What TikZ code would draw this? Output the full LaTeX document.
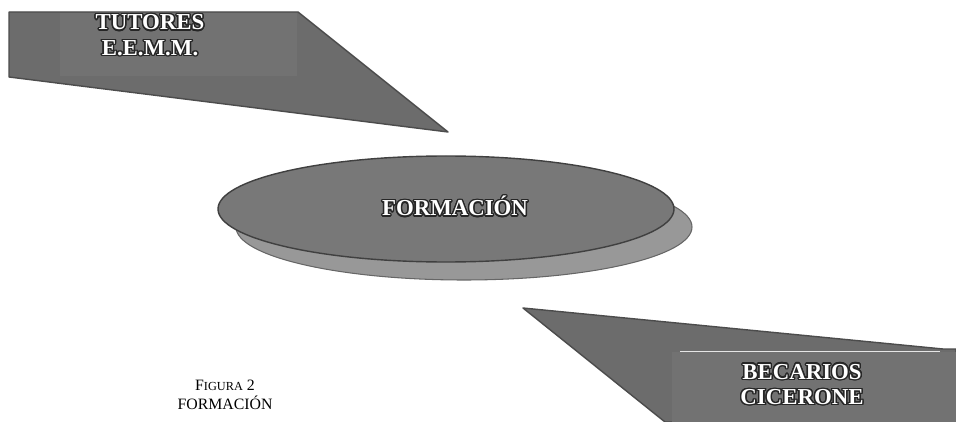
\documentclass[tikz,border=0pt]{standalone}
\usepackage{fontspec}
\setmainfont{Liberation Serif}
\usepackage{contour}
\contourlength{0.8pt}
\definecolor{calloutgray}{RGB}{108,108,108}
\definecolor{boxgray}{RGB}{114,114,114}
\definecolor{ovalgray}{RGB}{120,120,120}
\definecolor{shadegray}{RGB}{152,152,152}
\newcommand{\embossed}[1]{\contour{black!85}{\textcolor{white}{#1}}}
\tikzset{
  callout/.style={fill=calloutgray, draw=black!70, line width=0.8pt, line join=round},
  textbox/.style={fill=boxgray},
  label/.style={font=\fontsize{13}{14.5}\selectfont\bfseries, align=center, inner sep=0pt},
  caption/.style={font=\fontsize{9}{11}\selectfont, align=center, inner sep=0pt}
}
\begin{document}
\begin{tikzpicture}[x=0.02cm,y=-0.02cm]
   \useasboundingbox (0,0) rectangle (956,422);
   % upper callout
   \draw[callout] (9,12) -- (298,12) -- (448,132) -- (9,77) -- cycle;
   \fill[textbox] (60,13) rectangle (297,76);
   \node[label] (tutores) at (150,36) {\embossed{TUTORES}\\\embossed{E.E.M.M.}};
   % central oval with its shade
   \draw[fill=shadegray, draw=black!60, line width=0.6pt] (464,227) ellipse (228 and 53);
   \draw[fill=ovalgray, draw=black!75, line width=0.8pt] (446,209) ellipse (228 and 53);
   \node[label] (formacion) at (455,207) {\embossed{FORMACIÓN}};
   % lower callout
   \draw[callout] (523,308) -- (943,349) -- (956,349) -- (956,422) -- (665,422) -- cycle;
   \fill[textbox] (672,352) rectangle (956,422);
   \draw[white!80!gray, line width=0.4pt] (680,351) -- (940,351);
   \node[label] (becarios) at (802,385) {\embossed{BECARIOS}\\\embossed{CICERONE}};
   % caption
   \node[caption] (figura) at (225,395) {F{\fontsize{7}{8}\selectfont IGURA} 2\\FORMACIÓN};
\end{tikzpicture}
\end{document}
